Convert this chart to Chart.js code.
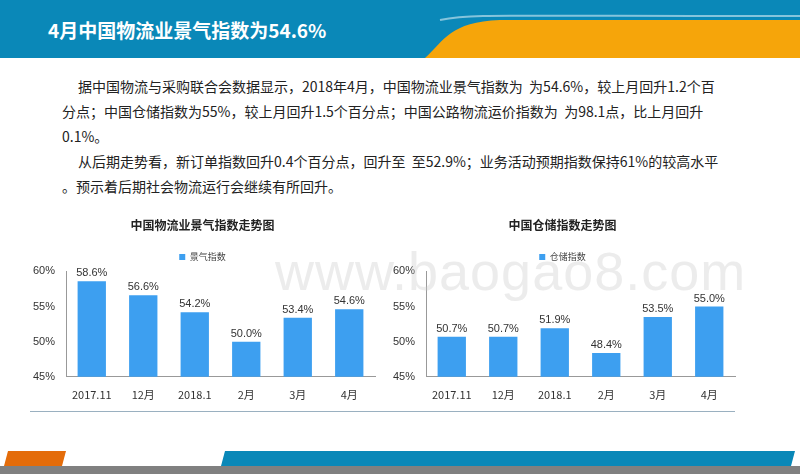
<!DOCTYPE html>
<html>
<head>
<meta charset="utf-8">
<script src="https://cdn.jsdelivr.net/npm/chart.js@4"></script>
<style>
  body { margin: 0; width: 800px; height: 474px; position: relative; overflow: hidden; background: #fff;
         font-family: "Noto Sans CJK SC", sans-serif; }
  #head { position: absolute; left: 0; top: 0; width: 800px; height: 58px; background: #0a88b8; }
  #head svg { position: absolute; left: 0; top: 0; }
  #title { position: absolute; left: 48px; top: 16px; color: #fff; font-size: 19px; font-weight: bold; }
  #text { position: absolute; left: 62px; top: 74px; width: 680px; font-size: 14px; line-height: 25px; color: #222; }
  #text p { margin: 0; text-indent: 16px; }
  .box { position: absolute; }
  #sep { position: absolute; left: 30px; top: 411px; width: 705px; height: 1px; background: #9ab0c0; }
  #foot { position: absolute; left: 0; top: 466px; width: 800px; height: 8px; background: #808080; }
  #wm { position: absolute; left: 275px; top: 240px; font-size: 54px; color: rgba(200,200,200,0.35);
        font-family: "Liberation Sans", sans-serif; letter-spacing: 1px; }
</style>
</head>
<body>
<div id="head">
  <svg width="800" height="58">
    <path d="M425 58 C445 40, 450 22, 500 20 L800 20 L800 58 Z" fill="#f6a50a"/>
    <path d="M440 20 C470 14, 480 16, 800 16" stroke="#fff" stroke-width="2" fill="none" opacity="0.5"/>
  </svg>
  <div id="title">4月中国物流业景气指数为54.6%</div>
</div>
<div id="text">
  <p>据中国物流与采购联合会数据显示，2018年4月，中国物流业景气指数为&nbsp; 为54.6%，较上月回升1.2个百</p>
  <p style="text-indent:0">分点；中国仓储指数为55%，较上月回升1.5个百分点；中国公路物流运价指数为&nbsp; 为98.1点，比上月回升</p>
  <p style="text-indent:0">0.1%。</p>
  <p>从后期走势看，新订单指数回升0.4个百分点，回升至&nbsp; 至52.9%；业务活动预期指数保持61%的较高水平</p>
  <p style="text-indent:0">。预示着后期社会物流运行会继续有所回升。</p>
</div>
<div class="box" style="left:20px;top:210px;width:370px;height:194px"><canvas id="c1"></canvas></div>
<div class="box" style="left:380px;top:210px;width:370px;height:194px"><canvas id="c2"></canvas></div>
<div id="wm">www.baogao8.com</div>
<div id="sep"></div>
<svg style="position:absolute;left:0;top:440px" width="800" height="34">
  <polygon points="8,11 66,11 62,26 4,26" fill="#e46c0a"/>
  <polygon points="225,11 795,11 791,26 221,26" fill="#0a88b8"/>
</svg>
<div id="foot"></div>
<script>
// 数据
const months = ["2017.11", "12月", "2018.1", "2月", "3月", "4月"];
const logisticsIndex = [58.6, 56.6, 54.2, 50.0, 53.4, 54.6];
const storageIndex = [50.7, 50.7, 51.9, 48.4, 53.5, 55.0];
const yTicks = [45, 50, 55, 60];

const labelPlugin = {
  id: "valLabels",
  afterDatasetsDraw(chart) {
    const ctx = chart.ctx;
    const meta = chart.getDatasetMeta(0);
    ctx.save();
    ctx.font = "11px 'Liberation Sans', sans-serif";
    ctx.fillStyle = "#333";
    ctx.textAlign = "center";
    meta.data.forEach((bar, i) => {
      ctx.fillText(chart.data.datasets[0].data[i].toFixed(1) + "%", bar.x, bar.y - 8);
    });
    ctx.restore();
  }
};

function makeChart(id, title, legend, values) {
  new Chart(document.getElementById(id), {
    type: "bar",
    data: { labels: months, datasets: [{ label: legend, data: values, backgroundColor: "#3d9ff0", barPercentage: 0.55, categoryPercentage: 1 }] },
    options: {
      responsive: true, maintainAspectRatio: false, animation: false,
      layout: { padding: { left: 10, right: 15, top: 4 } },
      plugins: {
        title: { display: true, text: title, color: "#222", font: { size: 12, weight: "bold", family: "'Noto Sans CJK SC'" }, padding: { top: 4, bottom: 6 } },
        legend: { labels: { boxWidth: 6, boxHeight: 6, padding: 14, font: { size: 9, family: "'Noto Sans CJK SC'" }, color: "#444" } },
        tooltip: { enabled: false }
      },
      scales: {
        y: {
          min: 45, max: 60,
          afterBuildTicks: ax => { ax.ticks = yTicks.map(v => ({ value: v })); },
          ticks: { callback: v => v + "%", font: { size: 11, family: "'Liberation Sans'" }, color: "#333" },
          grid: { display: false },
          border: { color: "#999" }
        },
        x: {
          ticks: { font: { size: 11, family: "'Noto Sans CJK SC'" }, color: "#333" },
          grid: { display: false },
          border: { color: "#999" }
        }
      }
    },
    plugins: [labelPlugin]
  });
}

makeChart("c1", "中国物流业景气指数走势图", "景气指数", logisticsIndex);
makeChart("c2", "中国仓储指数走势图", "仓储指数", storageIndex);
</script>
</body>
</html>
